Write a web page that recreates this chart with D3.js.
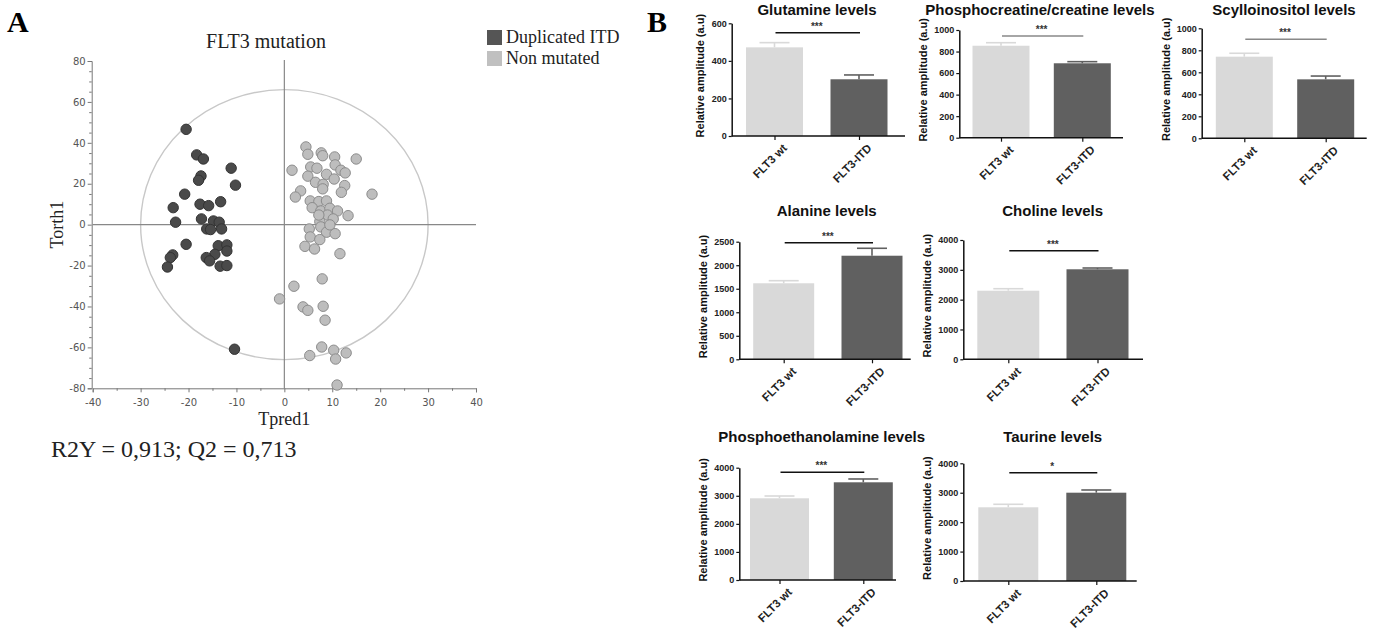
<!DOCTYPE html>
<html><head><meta charset="utf-8">
<script src="https://cdn.jsdelivr.net/npm/d3@7"></script>
<style>
html,body{margin:0;padding:0;background:#fff;}
svg{display:block;}
</style></head>
<body>
<svg id="chart" width="1378" height="630"></svg>
<script>
// ---------- Panel A data (OPLS-DA scores) ----------
const itdX = [-20.5,-18.3,-16.9,-11.1,-17.4,-17.9,-10.2,-20.8,-23.2,-17.6,-15.8,-13.3,-22.7,-17.3,-14.8,-13.6,-16.2,-15.4,-13.1,-20.5,-13.8,-12.0,-12.0,-14.5,-23.3,-23.8,-16.3,-15.6,-24.4,-13.4,-12.0,-10.4];
const itdY = [46.6,34.1,32.1,27.6,23.8,21.7,19.3,14.9,8.3,10.0,9.3,11.2,1.2,2.8,1.8,1.2,-2.1,-2.4,-2.1,-9.6,-10.3,-9.9,-12.9,-14.5,-14.8,-16.1,-16.1,-17.7,-20.7,-20.3,-20.0,-60.9];
const wtX = [4.5,4.9,7.7,8.0,10.5,15.0,10.6,11.8,12.7,1.6,5.5,6.8,4.9,8.8,10.4,6.5,8.1,12.6,8.0,11.9,3.4,2.3,18.3,5.4,7.2,8.8,5.8,7.6,9.5,11.1,13.3,9.0,10.2,7.4,7.6,5.2,8.8,10.6,5.4,7.4,4.3,6.3,11.6,9.5,7.2,
             7.9,2.0,-1.0,3.9,4.9,8.1,8.5,7.8,10.3,12.9,5.3,10.7,11.0];
const wtY = [38.0,34.4,35.1,33.7,33.1,32.1,29.2,26.6,25.3,26.6,28.2,27.6,23.7,24.6,22.3,20.7,19.7,19.1,17.5,15.8,16.5,13.5,14.9,11.6,11.3,11.6,8.3,6.7,8.0,6.7,4.4,4.7,2.8,1.5,-1.1,-2.1,-3.7,-4.4,-6.0,-7.3,-10.6,-11.9,-14.2,-0.1,4.7,
             -26.5,-30.1,-36.3,-40.2,-41.9,-39.9,-46.7,-59.8,-61.4,-62.7,-64.0,-65.7,-78.4];
const scatterTicks = [-80,-60,-40,-20,0,20,40,60,80];
const scatterXTicks = [-40,-30,-20,-10,0,10,20,30,40];
const legendLabels = ["Duplicated ITD","Non mutated"];
const ellipseRadii = [30, 66];

// ---------- Panel B data (bar charts) ----------
const barTitles = ["Glutamine levels","Phosphocreatine/creatine levels","Scylloinositol levels","Alanine levels","Choline levels","Phosphoethanolamine levels","Taurine levels"];
const groups = ["FLT3 wt","FLT3-ITD"];
const wtMean = [472, 854, 742, 1616, 2300, 2910, 2505];
const wtErr  = [25, 28, 31, 55, 67, 82, 102];
const itdMean = [302, 691, 536, 2202, 3018, 3480, 3001];
const itdErr  = [23, 15, 30, 158, 43, 118, 92];
const yMax  = [600, 1000, 1000, 2500, 4000, 4000, 4000];
const yStep = [200, 200, 200, 500, 1000, 1000, 1000];
const sigStars = ["***","***","***","***","***","***","*"];
const sigLevel = [550, 944, 900, 2480, 3641, 3836, 3680];

const svg = d3.select("#chart");
const serif = "'Liberation Serif','Times New Roman',serif";
const sans = "'Liberation Sans',Arial,sans-serif";

// ================= Panel A =================
svg.append("text").attr("x",7).attr("y",32).attr("font-family",serif).attr("font-weight","bold").attr("font-size",30).text("A");

const x = d3.scaleLinear().domain([-40,40]).range([92.7,476]);
const y = d3.scaleLinear().domain([-80,80]).range([388.3,61]);
const gA = svg.append("g");

gA.append("text").attr("x",266).attr("y",48).attr("text-anchor","middle").attr("font-family",serif).attr("font-size",20).attr("fill","#222").text("FLT3 mutation");

gA.append("ellipse").attr("cx",x(0)).attr("cy",y(0))
  .attr("rx",x(ellipseRadii[0])-x(0)).attr("ry",y(0)-y(ellipseRadii[1]))
  .attr("fill","none").attr("stroke","#c8c8c8").attr("stroke-width",1.4);

gA.append("line").attr("x1",x(0)).attr("x2",x(0)).attr("y1",y(80)-1).attr("y2",y(-80)).attr("stroke","#888").attr("stroke-width",1.2);
gA.append("line").attr("x1",x(-40)).attr("x2",x(40)).attr("y1",y(0)).attr("y2",y(0)).attr("stroke","#888").attr("stroke-width",1.2);

const yAx = gA.append("g").attr("transform",`translate(${x(-40)-1},0)`)
  .call(d3.axisLeft(y).tickValues(d3.range(-80,81,5)).tickSize(4).tickFormat(d => scatterTicks.includes(d) ? d : ""));
const xAx = gA.append("g").attr("transform",`translate(0,${y(-80)})`)
  .call(d3.axisBottom(x).tickValues(d3.range(-40,41,5)).tickSize(4).tickFormat(d => scatterXTicks.includes(d) ? d : ""));
[yAx,xAx].forEach(g=>{
  g.select(".domain").attr("stroke","#777");
  g.selectAll(".tick line").attr("stroke","#777");
  g.selectAll("text").attr("font-family","'DejaVu Sans',sans-serif").attr("font-size",10).attr("fill","#555");
});
yAx.selectAll(".tick").filter(d=>!scatterTicks.includes(d)).select("line").attr("x2",-2.5);
xAx.selectAll(".tick").filter(d=>!scatterXTicks.includes(d)).select("line").attr("y2",2.5);
yAx.selectAll("text").attr("dx",1);
xAx.selectAll("text").attr("dy","1.05em");

gA.append("text").attr("x",x(0)).attr("y",425).attr("text-anchor","middle").attr("font-family",serif).attr("font-size",18).attr("fill","#222").text("Tpred1");
gA.append("text").attr("transform",`translate(63,${y(0)}) rotate(-90)`).attr("text-anchor","middle").attr("font-family",serif).attr("font-size",18).attr("fill","#222").text("Torth1");

const wtPts = wtX.map((v,i)=>({x:v,y:wtY[i]}));
const itdPts = itdX.map((v,i)=>({x:v,y:itdY[i]}));
gA.append("g").selectAll("circle").data(wtPts).join("circle")
  .attr("cx",d=>x(d.x)).attr("cy",d=>y(d.y)).attr("r",5.2)
  .attr("fill","#bdbdbd").attr("stroke","#8c8c8c").attr("stroke-width",1);
gA.append("g").selectAll("circle").data(itdPts).join("circle")
  .attr("cx",d=>x(d.x)).attr("cy",d=>y(d.y)).attr("r",5.2)
  .attr("fill","#4a4a4a").attr("stroke","#333").attr("stroke-width",1);

const legCols = ["#555555","#c0c0c0"];
legendLabels.forEach((l,i)=>{
  gA.append("rect").attr("x",487).attr("y",30+i*21).attr("width",15).attr("height",15).attr("fill",legCols[i]);
  gA.append("text").attr("x",506).attr("y",43+i*21).attr("font-family",serif).attr("font-size",18).attr("fill","#222").text(l);
});

svg.append("text").attr("x",51).attr("y",457).attr("font-family",serif).attr("font-size",24).attr("fill","#222").text("R2Y = 0,913; Q2 = 0,713");

// ================= Panel B =================
svg.append("text").attr("x",647).attr("y",32).attr("font-family",serif).attr("font-weight","bold").attr("font-size",30).text("B");

const layout = [
  {ax:731.7, top:23.3, bot:136,   c:[774.5,859],   bw:57, right:905,    tx:817,    ty:15,    lo:28, sigCol:"#111"},
  {ax:959.3, top:30,   bot:137.7, c:[1001,1082.3], bw:57, right:1123,   tx:1040,   ty:15,    lo:32, sigCol:"#888"},
  {ax:1201.7,top:28.3, bot:138.3, c:[1244.3,1325.7],bw:57,right:1366.7, tx:1284,   ty:15,    lo:32, sigCol:"#888"},
  {ax:739.3, top:241.7,bot:359.3, c:[783.7,872],   bw:61, right:910.7,  tx:826.7,  ty:215.7, lo:32, sigCol:"#111"},
  {ax:963.3, top:240,  bot:359.3, c:[1008.3,1097.5],bw:62,right:1143,   tx:1052.7, ty:215.7, lo:32, sigCol:"#111"},
  {ax:739.3, top:467.7,bot:580,   c:[779.5,863.3], bw:59, right:896,    tx:821.7,  ty:441.7, lo:32, sigCol:"#111"},
  {ax:963.3, top:463.3,bot:581,   c:[1008.3,1096.3],bw:60,right:1136.7, tx:1052.7, ty:441.7, lo:32, sigCol:"#111"}
];
const barCols = ["#d9d9d9","#606060"];

barTitles.forEach((title,i)=>{
  const L = layout[i];
  const g = svg.append("g");
  const ys = d3.scaleLinear().domain([0,yMax[i]]).range([L.bot,L.top]);
  const xs = d3.scalePoint().domain(groups).range(L.c);
  const vals = [{g:groups[0],m:wtMean[i],e:wtErr[i]},{g:groups[1],m:itdMean[i],e:itdErr[i]}];

  g.append("text").attr("x",L.tx).attr("y",L.ty).attr("text-anchor","middle")
    .attr("font-family",sans).attr("font-weight","bold").attr("font-size",15).attr("fill","#111").text(title);

  vals.forEach((d,k)=>{
    const cx = xs(d.g);
    g.append("line").attr("x1",cx).attr("x2",cx).attr("y1",ys(d.m)).attr("y2",ys(d.m+d.e)).attr("stroke",barCols[k]).attr("stroke-width",1.6);
    g.append("line").attr("x1",cx-15).attr("x2",cx+15).attr("y1",ys(d.m+d.e)).attr("y2",ys(d.m+d.e)).attr("stroke",barCols[k]).attr("stroke-width",1.6);
  });
  g.selectAll("rect.bar").data(vals).join("rect").attr("class","bar")
    .attr("x",d=>xs(d.g)-L.bw/2).attr("width",L.bw)
    .attr("y",d=>ys(d.m)).attr("height",d=>ys(0)-ys(d.m))
    .attr("fill",(d,k)=>barCols[k]);

  const ya = g.append("g").attr("transform",`translate(${L.ax},0)`)
    .call(d3.axisLeft(ys).tickValues(d3.range(0,yMax[i]+1,yStep[i])).tickFormat(d3.format("d")).tickSize(3).tickPadding(2).tickSizeOuter(0));
  ya.select(".domain").attr("stroke","#111").attr("stroke-width",1.5);
  ya.selectAll(".tick line").attr("stroke","#111").attr("stroke-width",1.2);
  ya.selectAll("text").attr("font-family",sans).attr("font-weight","bold").attr("font-size",9).attr("fill","#222");

  const xa = g.append("g").attr("transform",`translate(0,${L.bot})`)
    .call(d3.axisBottom(xs).tickSize(4).tickSizeOuter(0));
  xa.select(".domain").attr("d",`M${L.ax},0H${L.right}`).attr("stroke","#111").attr("stroke-width",1.5);
  xa.selectAll(".tick line").attr("stroke","#111").attr("stroke-width",1.2);
  xa.selectAll("text").attr("font-family",sans).attr("font-weight","bold").attr("font-size",11.5).attr("fill","#222")
    .attr("text-anchor","end").attr("transform","translate(5,5) rotate(-45)").attr("dy","0.35em").attr("dx","0");

  g.append("text").attr("transform",`translate(${L.ax-L.lo},${(L.top+L.bot)/2-4}) rotate(-90)`)
    .attr("text-anchor","middle").attr("font-family",sans).attr("font-weight","bold").attr("font-size",11).attr("fill","#111")
    .text("Relative amplitude (a.u)");

  const sy = ys(sigLevel[i]);
  g.append("line").attr("x1",xs(groups[0])+1).attr("x2",xs(groups[1])+1).attr("y1",sy).attr("y2",sy).attr("stroke",L.sigCol).attr("stroke-width",1.5);
  g.append("text").attr("x",(xs(groups[0])+xs(groups[1]))/2).attr("y",sy-3).attr("text-anchor","middle")
    .attr("font-family",sans).attr("font-weight","bold").attr("font-size",10).attr("fill","#333").text(sigStars[i]);
});
</script>
</body></html>
